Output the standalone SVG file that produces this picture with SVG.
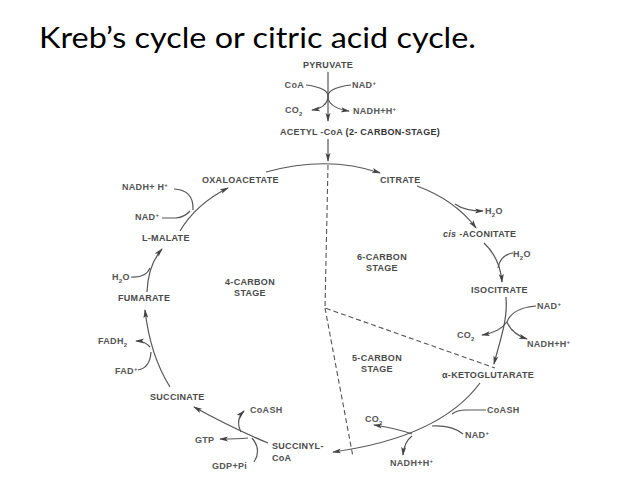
<svg xmlns="http://www.w3.org/2000/svg" width="638" height="479" viewBox="0 0 638 479">
<style>
.t{font-family:"Liberation Sans",Arial,sans-serif;font-size:9px;font-weight:bold;fill:#4a4a4a;letter-spacing:0.3px}
.s{font-family:"Liberation Sans",Arial,sans-serif;font-size:9px;font-weight:bold;fill:#555;letter-spacing:0.3px}
.c{fill:none;stroke:#555;stroke-width:1.2}
.a{marker-end:url(#ah)}
.d{fill:none;stroke:#555;stroke-width:1.1;stroke-dasharray:5,3}
.sup{font-size:6px}
</style>
<defs>
<marker id="ah" markerUnits="userSpaceOnUse" markerWidth="9" markerHeight="6" refX="8" refY="3" orient="auto">
<path d="M0,0.5 L9,3 L0,5.5 L2,3 z" fill="#444"/>
</marker>
</defs>
<rect width="638" height="479" fill="#fff"/>
<text x="39" y="48" font-family="Lato,'Open Sans',sans-serif" font-size="28" fill="#000" textLength="437" lengthAdjust="spacingAndGlyphs">Kreb’s cycle or citric acid cycle.</text>

<g id="connectors">
<path class="c a" d="M328,72 L328,121"/>
<path class="c a" d="M328,139 L328,161"/>
<path class="c a" d="M306,85 Q330,88 328,98 Q326,108 312,110"/>
<path class="c a" d="M351,85 Q326,88 328,98 Q330,108 349,111"/>
<path class="c a" d="M266,172 Q328,155 380,173"/>
<path class="c a" d="M417,186 Q455,200 476,228"/>
<path class="c a" d="M455,204 Q465,211 483,211"/>
<path class="c a" d="M484,243 Q500,258 502,282"/>
<path class="c" d="M513,253 Q500,255 498,268"/>
<path class="c a" d="M506,297 C508,320 500,340 494,364"/>
<path class="c a" d="M536,306 Q512,308 507,322 Q512,334 527,339"/>
<path class="c a" d="M507,322 Q500,332 482,335"/>
<path class="c a" d="M480,383 C460,410 420,440 333,452"/>
<path class="c" d="M486,410 L466,410 Q457,410 452,414"/>
<path class="c" d="M463,434 Q452,425 432,426"/>
<path class="c a" d="M412,434 Q395,428 374,425"/>
<path class="c a" d="M412,436 Q404,442 403,455"/>
<path class="c a" d="M268,443 Q232,428 194,407"/>
<path class="c a" d="M241,432 Q235,420 244,411"/>
<path class="c a" d="M248,438 Q238,439 220,439"/>
<path class="c" d="M254,462 Q262,450 252,438"/>
<path class="c a" d="M170,387 Q150,355 145,310"/>
<path class="c a" d="M150,347 Q145,341 136,341"/>
<path class="c" d="M138,370 Q150,368 151,352"/>
<path class="c a" d="M147,292 Q148,265 162,249"/>
<path class="c" d="M131,277 Q146,278 150,268"/>
<path class="c a" d="M180,231 Q196,204 228,188"/>
<path class="c" d="M162,218 L176,218 Q185,217 190,211"/>
<path class="c" d="M174,189 Q194,190 193,210"/>
<path class="d" d="M328,165 L325,308 L495,368"/>
<path class="d" d="M325,308 L353,457"/>
</g>

<g id="pyruvate"><text class="t" x="328" y="68" text-anchor="middle">PYRUVATE</text></g>
<g id="pdh-cofactors">
<text class="s" x="304" y="88" text-anchor="end">CoA</text>
<text class="s" x="352" y="88">NAD<tspan class="sup" dy="-3">+</tspan></text>
<text class="s" x="285" y="113">CO<tspan class="sup" dy="3">2</tspan></text>
<text class="s" x="353" y="114">NADH+H<tspan class="sup" dy="-3">+</tspan></text>
</g>
<g id="acetyl-coa"><text class="t" x="280" y="135">ACETYL -CoA <tspan font-weight="900" fill="#333">(2- CARBON-STAGE)</tspan></text></g>
<g id="oxaloacetate"><text class="t" x="202" y="183">OXALOACETATE</text></g>
<g id="citrate"><text class="t" x="380" y="183">CITRATE</text></g>
<g id="h2o-1"><text class="s" x="485" y="214">H<tspan class="sup" dy="3">2</tspan><tspan dy="-3">O</tspan></text></g>
<g id="cis-aconitate"><text class="t" x="443" y="237"><tspan font-style="italic">cis</tspan> -ACONITATE</text></g>
<g id="h2o-2"><text class="s" x="513" y="257">H<tspan class="sup" dy="3">2</tspan><tspan dy="-3">O</tspan></text></g>
<g id="isocitrate"><text class="t" x="471" y="293">ISOCITRATE</text></g>
<g id="idh-cofactors">
<text class="s" x="537" y="309">NAD<tspan class="sup" dy="-3">+</tspan></text>
<text class="s" x="457" y="338">CO<tspan class="sup" dy="3">2</tspan></text>
<text class="s" x="527" y="347">NADH+H<tspan class="sup" dy="-3">+</tspan></text>
</g>
<g id="alpha-ketoglutarate"><text class="t" x="442" y="378">α-KETOGLUTARATE</text></g>
<g id="akgdh-cofactors">
<text class="s" x="487" y="413">CoASH</text>
<text class="s" x="365" y="422">CO<tspan class="sup" dy="3">2</tspan></text>
<text class="s" x="465" y="438">NAD<tspan class="sup" dy="-3">+</tspan></text>
<text class="s" x="390" y="466">NADH+H<tspan class="sup" dy="-3">+</tspan></text>
</g>
<g id="succinyl-coa"><text class="t" x="272" y="449">SUCCINYL-</text><text class="t" x="272" y="461">CoA</text></g>
<g id="scs-cofactors">
<text class="s" x="250" y="413">CoASH</text>
<text class="s" x="195" y="443">GTP</text>
<text class="s" x="212" y="469">GDP+Pi</text>
</g>
<g id="succinate"><text class="t" x="150" y="400">SUCCINATE</text></g>
<g id="sdh-cofactors">
<text class="s" x="98" y="344">FADH<tspan class="sup" dy="3">2</tspan></text>
<text class="s" x="115" y="374">FAD<tspan class="sup" dy="-3">+</tspan></text>
</g>
<g id="fumarate"><text class="t" x="118" y="301">FUMARATE</text></g>
<g id="h2o-3"><text class="s" x="112" y="280">H<tspan class="sup" dy="3">2</tspan><tspan dy="-3">O</tspan></text></g>
<g id="l-malate"><text class="t" x="142" y="241">L-MALATE</text></g>
<g id="mdh-cofactors">
<text class="s" x="135" y="220">NAD<tspan class="sup" dy="-3">+</tspan></text>
<text class="s" x="122" y="190">NADH+ H<tspan class="sup" dy="-3">+</tspan></text>
</g>
<g id="stage-4"><text class="t" x="250" y="285" text-anchor="middle">4-CARBON</text><text class="t" x="250" y="296" text-anchor="middle">STAGE</text></g>
<g id="stage-6"><text class="t" x="382" y="260" text-anchor="middle">6-CARBON</text><text class="t" x="382" y="271" text-anchor="middle">STAGE</text></g>
<g id="stage-5"><text class="t" x="377" y="361" text-anchor="middle">5-CARBON</text><text class="t" x="377" y="372" text-anchor="middle">STAGE</text></g>
</svg>
